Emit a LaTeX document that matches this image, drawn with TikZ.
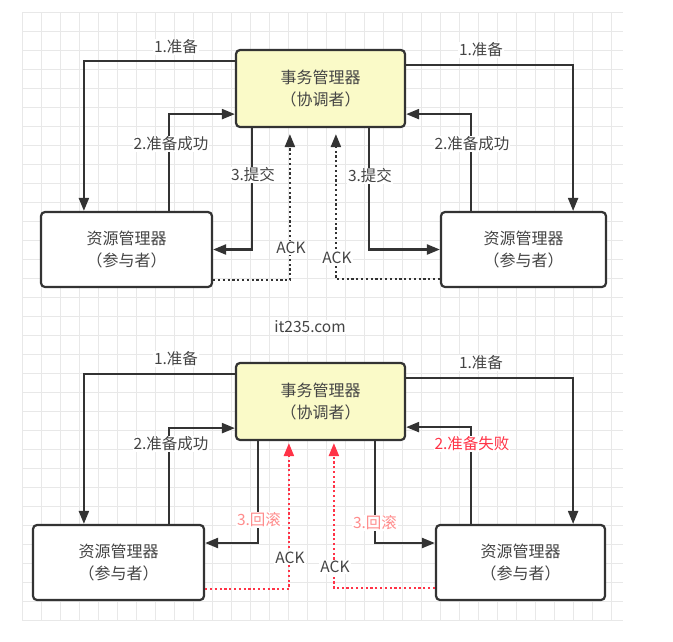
\documentclass[tikz,border=0pt]{standalone}
\usepackage{fontspec}
\setmainfont{Noto Sans CJK SC}
\usetikzlibrary{arrows.meta}
\definecolor{linegray}{HTML}{333333}
\definecolor{textgray}{HTML}{444444}
\definecolor{gridgray}{HTML}{E8E8E8}
\definecolor{tmfill}{HTML}{FAFAC8}
\definecolor{failred}{HTML}{FF3347}
\definecolor{rollpink}{HTML}{FF8C8C}
\begin{document}
\begin{tikzpicture}[
    x=1pt, y=-1pt,
    >={Triangle[length=13pt,width=10pt]},
    manager/.style={draw=linegray, line width=2.2pt, rounded corners=4pt, fill=tmfill, minimum width=169pt, minimum height=77pt, align=center, text=textgray, font=\fontsize{16}{22}\selectfont},
    party/.style={draw=linegray, line width=2.2pt, rounded corners=4pt, fill=white, minimum width=#1, minimum height=75pt, align=center, text=textgray, font=\fontsize{16}{22}\selectfont},
    lbl/.style={fill=white, inner sep=1pt, text=textgray, font=\fontsize{15.5}{18}\selectfont},
    wire/.style={draw=linegray, line width=2.2pt},
    ack/.style={draw=linegray, line width=2.2pt, dash pattern=on 2.2pt off 2.6pt},
    redack/.style={draw=failred, line width=2.2pt, dash pattern=on 2.2pt off 2.6pt}
]
  \useasboundingbox (0,0) rectangle (673,641);

  % Background grid
  \foreach \gx in {22,41,...,611}
    \draw[gridgray, line width=0.7pt] (\gx,12) -- (\gx,620);
  \foreach \gy in {12,31,...,620}
    \draw[gridgray, line width=0.7pt] (22,\gy) -- (623,\gy);

  % Commit case
  \node[manager] (tm1) at (320.5,88.5) {事务管理器\\（协调者）};
  \node[party=171pt] (rm1) at (126.5,249.5) {资源管理器\\（参与者）};
  \node[party=165pt] (rm2) at (523.5,249.5) {资源管理器\\（参与者）};

  \draw[wire,->] ([yshift=-12pt]tm1.north west) -| ([xshift=44pt]rm1.north west);
  \draw[wire,->] ([yshift=-16pt]tm1.north east) -| ([xshift=-34pt]rm2.north east);
  \draw[wire,->] ([xshift=129pt]rm1.north west) |- ([yshift=14pt]tm1.south west);
  \draw[wire,->] ([xshift=31pt]rm2.north west) |- ([yshift=14pt]tm1.south east);
  \draw[wire,->] ([xshift=17pt]tm1.south west) |- (rm1.east);
  \draw[wire,->] ([xshift=-37pt]tm1.south east) |- (rm2.west);
  \draw[ack,->,shorten >=6pt] ([yshift=8pt]rm1.south east) -| ([xshift=55pt]tm1.south west);
  \draw[ack,->,shorten >=6pt] ([yshift=9pt]rm2.south west) -| ([xshift=101pt]tm1.south west);

  \node[lbl] (p1) at (176,47) {1.准备};
  \node[lbl] (p2) at (481,50) {1.准备};
  \node[lbl] (s1) at (171,144) {2.准备成功};
  \node[lbl] (s2) at (472,144) {2.准备成功};
  \node[lbl] (c1) at (253,175) {3.提交};
  \node[lbl] (c2) at (370,176) {3.提交};
  \node[lbl] (a1) at (291,248) {ACK};
  \node[lbl] (a2) at (337,258) {ACK};

  \node[lbl] (site) at (310,327) {it235.com};

  % Rollback case
  \node[manager] (tm2) at (320.5,401.5) {事务管理器\\（协调者）};
  \node[party=171pt] (rm3) at (118.5,562.5) {资源管理器\\（参与者）};
  \node[party=169pt] (rm4) at (520.5,562.5) {资源管理器\\（参与者）};

  \draw[wire,->] ([yshift=-12pt]tm2.north west) -| ([xshift=52pt]rm3.north west);
  \draw[wire,->] ([yshift=-16pt]tm2.north east) -| ([xshift=-33pt]rm4.north east);
  \draw[wire,->] ([xshift=137pt]rm3.north west) |- ([yshift=13pt]tm2.south west);
  \draw[wire,->] ([xshift=36pt]rm4.north west) |- ([yshift=14pt]tm2.south east);
  \draw[wire,->] ([xshift=23pt]tm2.south west) |- ([yshift=19.5pt]rm3.east);
  \draw[wire,->] ([xshift=-31pt]tm2.south east) |- ([yshift=19.5pt]rm4.west);
  \draw[redack,->,shorten >=2pt] ([yshift=12pt]rm3.south east) -| ([xshift=54pt]tm2.south west);
  \draw[redack,->,shorten >=2pt] ([yshift=13pt]rm4.south west) -| ([xshift=99pt]tm2.south west);

  \node[lbl] (p3) at (176,359) {1.准备};
  \node[lbl] (p4) at (481,363) {1.准备};
  \node[lbl] (s3) at (171,444) {2.准备成功};
  \node[lbl, text=failred] (f4) at (472,444) {2.准备失败};
  \node[lbl, text=rollpink] (r3) at (259,520) {3.回滚};
  \node[lbl, text=rollpink] (r4) at (375,523) {3.回滚};
  \node[lbl] (a3) at (290,558) {ACK};
  \node[lbl] (a4) at (335,567) {ACK};
\end{tikzpicture}
\end{document}
